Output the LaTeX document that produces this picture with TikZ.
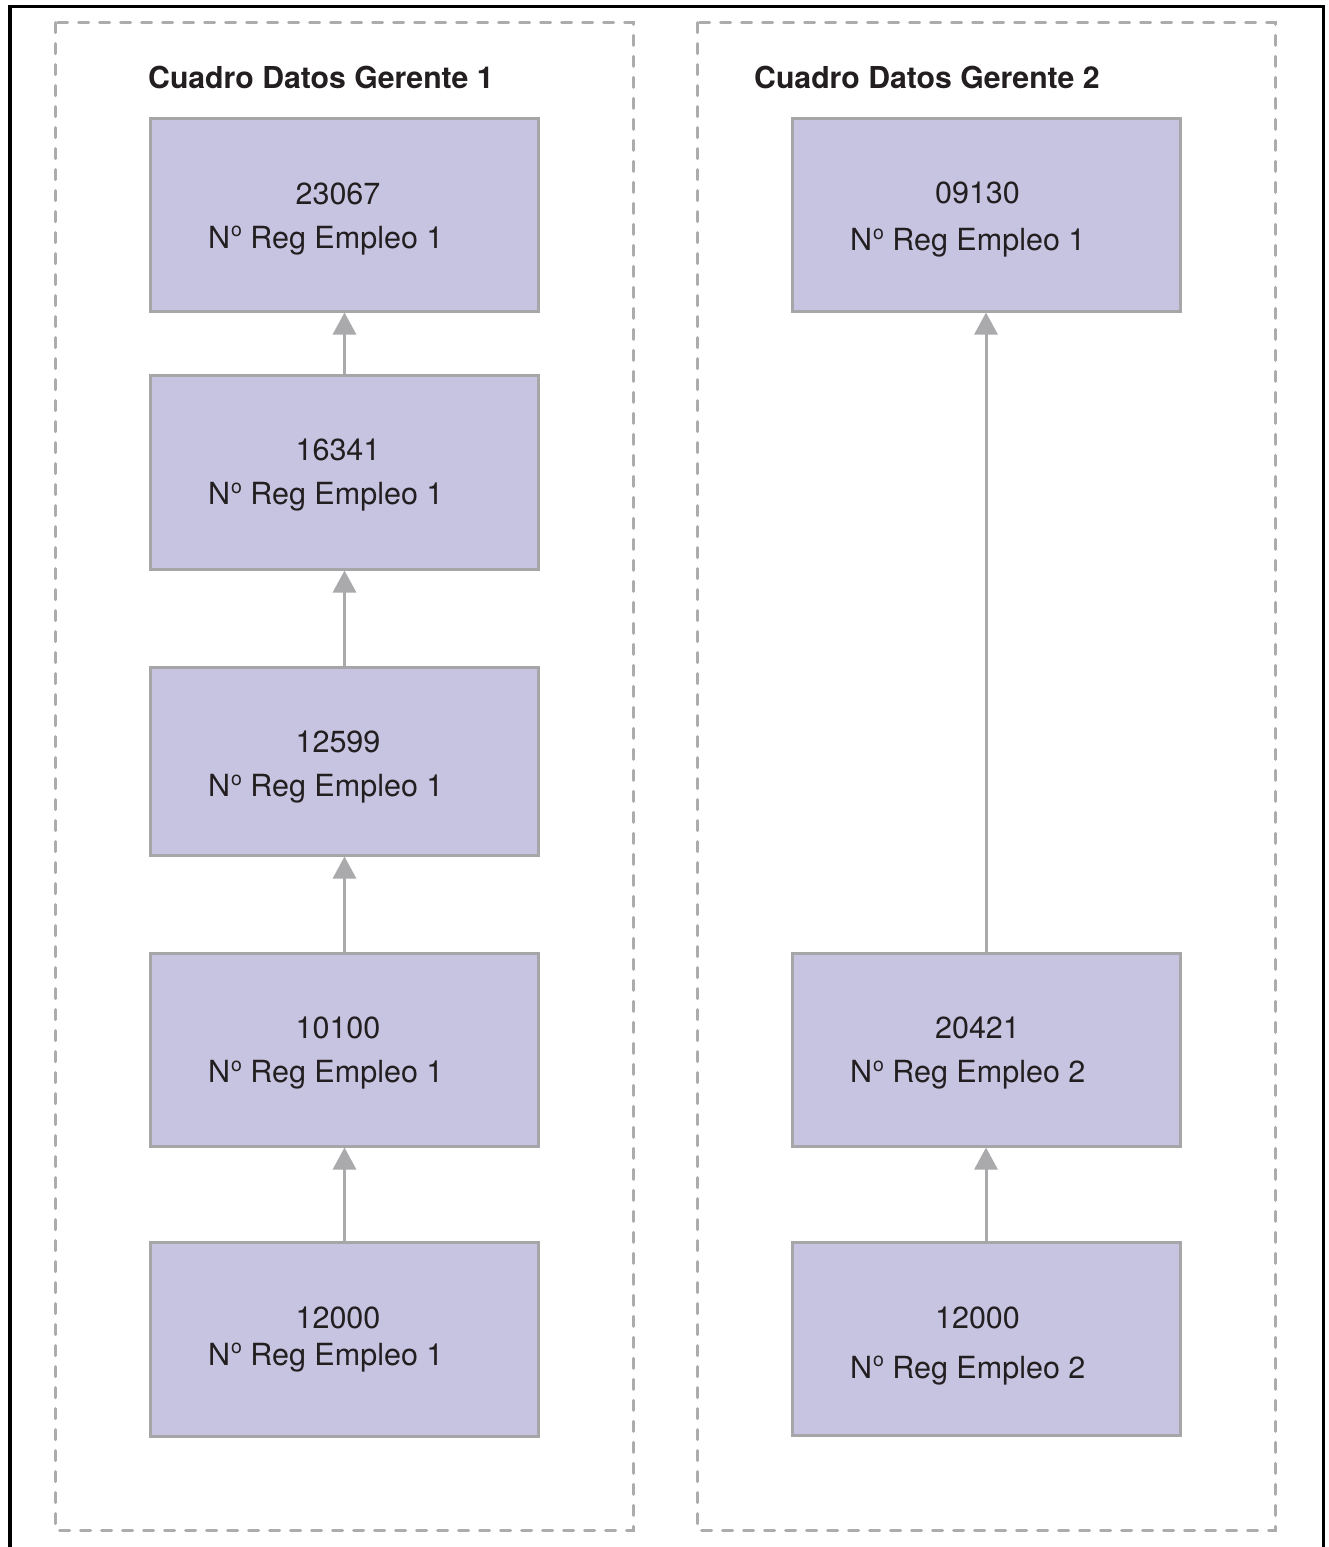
\documentclass[tikz,border=0pt]{standalone}
\usepackage{fontspec}
\setmainfont{TeX Gyre Heros}
\usetikzlibrary{arrows.meta}

\definecolor{boxfill}{RGB}{199,196,226}
\definecolor{boxline}{RGB}{166,166,169}
\definecolor{dashgray}{RGB}{172,172,175}
\definecolor{arrowgray}{RGB}{170,170,173}
\definecolor{inkdark}{RGB}{35,31,32}

% raised small "o" after N
\newcommand{\ordo}{N\kern0.8pt\raisebox{11.5pt}{\fontsize{19.5}{19.5}\selectfont o}}

\tikzset{
  empbox/.style={draw=boxline, fill=boxfill, line width=3pt, minimum width=388pt, inner sep=0pt},
  groupframe/.style={draw=dashgray, line width=3pt, dash pattern=on 10pt off 11pt, line cap=round},
  uparrow/.style={draw=arrowgray, line width=3pt, -{Triangle[width=23pt,length=22pt]}},
  numtxt/.style={inner sep=0pt, anchor=base, text=inkdark, font=\fontsize{30.5}{33}\selectfont},
  lbltxt/.style={inner sep=0pt, anchor=base west, text=inkdark, font=\fontsize{30.5}{33}\selectfont},
  grouptitle/.style={inner sep=0pt, anchor=base west, text=inkdark, font=\fontsize{30.2}{33}\selectfont\bfseries}
}

\begin{document}
\begin{tikzpicture}[x=1pt, y=-1pt]
\useasboundingbox (0,0) rectangle (1328,1547);
\fill[white] (0,0) rectangle (1328,1547);

% outer frame (open at the bottom edge of the page)
\draw[black, line width=3.5pt] (9.8,1560) -- (9.8,6.7) -- (1323.3,6.7) -- (1323.3,1560);

% group frames
\draw[groupframe] (55,22.7) rectangle (633,1530);
\draw[groupframe] (697,22.7) rectangle (1275,1530);

\node[grouptitle] (t1) at (148,88) {Cuadro Datos Gerente 1};
\node[grouptitle] (t2) at (754,88) {Cuadro Datos Gerente 2};

% left column
\node[empbox, minimum height=193pt] (l1) at (344.5,214.5) {};
\node[empbox, minimum height=194pt] (l2) at (344.5,472) {};
\node[empbox, minimum height=188pt] (l3) at (344.5,761) {};
\node[empbox, minimum height=193pt] (l4) at (344.5,1049.5) {};
\node[empbox, minimum height=194pt] (l5) at (344.5,1339) {};

\node[numtxt] (l1n) at (338,204) {23067};
\node[lbltxt] (l1l) at (208,248) {\ordo\ Reg Empleo 1};
\node[numtxt] (l2n) at (338,460.5) {16341};
\node[lbltxt] (l2l) at (208,504.5) {\ordo\ Reg Empleo 1};
\node[numtxt] (l3n) at (338,752.5) {12599};
\node[lbltxt] (l3l) at (208,796.5) {\ordo\ Reg Empleo 1};
\node[numtxt] (l4n) at (338,1038.5) {10100};
\node[lbltxt] (l4l) at (208,1082.5) {\ordo\ Reg Empleo 1};
\node[numtxt] (l5n) at (338,1328) {12000};
\node[lbltxt] (l5l) at (208,1365) {\ordo\ Reg Empleo 1};

\draw[uparrow] (l2.north) -- (l1.south);
\draw[uparrow] (l3.north) -- (l2.south);
\draw[uparrow] (l4.north) -- (l3.south);
\draw[uparrow] (l5.north) -- (l4.south);

% right column
\node[empbox, minimum height=193pt] (r1) at (986,214.5) {};
\node[empbox, minimum height=193pt] (r2) at (986,1049.5) {};
\node[empbox, minimum height=193pt] (r3) at (986,1338.7) {};

\node[numtxt] (r1n) at (977.5,203.5) {09130};
\node[lbltxt] (r1l) at (850,250.5) {\ordo\ Reg Empleo 1};
\node[numtxt] (r2n) at (977.5,1038.5) {20421};
\node[lbltxt] (r2l) at (850,1082.5) {\ordo\ Reg Empleo 2};
\node[numtxt] (r3n) at (977.5,1328) {12000};
\node[lbltxt] (r3l) at (850,1378) {\ordo\ Reg Empleo 2};

\draw[uparrow] (r2.north) -- (r1.south);
\draw[uparrow] (r3.north) -- (r2.south);
\end{tikzpicture}
\end{document}
